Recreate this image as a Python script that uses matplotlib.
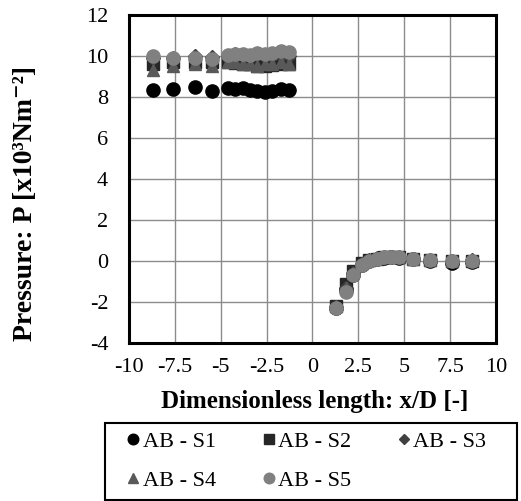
import matplotlib
matplotlib.use('Agg')
import matplotlib.pyplot as plt
from matplotlib.patches import Rectangle
from matplotlib.ticker import MultipleLocator

# ── データ ───────────────────────────────────────────────────
x_left  = [-8.7, -7.6, -6.4, -5.5, -4.6, -4.2, -3.8, -3.4, -3.0, -2.6, -2.2, -1.7, -1.3]
x_right = [1.3, 1.8, 2.2, 2.7, 3.1, 3.5, 3.9, 4.3, 4.7, 5.5, 6.4, 7.6, 8.7]

s1_left = [8.35, 8.4, 8.5, 8.3, 8.45, 8.4, 8.45, 8.35, 8.3, 8.25, 8.3, 8.4, 8.35]
s2_left = [9.6, 9.7, 9.7, 9.7, 9.7, 9.65, 9.6, 9.6, 9.5, 9.5, 9.55, 9.6, 9.6]
s3_left = [9.9, 9.9, 10.0, 9.95, 10.0, 10.1, 10.05, 10.0, 10.1, 10.0, 10.0, 10.05, 10.0]
s4_left = [9.3, 9.5, 9.6, 9.5, 9.7, 9.7, 9.6, 9.6, 9.5, 9.6, 9.6, 9.7, 9.6]
s5_left = [10.0, 9.9, 9.9, 9.85, 10.05, 10.1, 10.1, 10.05, 10.15, 10.1, 10.15, 10.25, 10.2]

s1_right = [-2.3, -1.4, -0.7, -0.2, 0.0, 0.1, 0.15, 0.2, 0.15, 0.1, 0.0, -0.1, -0.05]
s2_right = [-2.2, -1.1, -0.5, -0.1, 0.05, 0.1, 0.2, 0.2, 0.2, 0.1, 0.05, 0.0, 0.0]
s3_right = [-2.25, -1.3, -0.6, -0.15, 0.05, 0.15, 0.2, 0.2, 0.2, 0.1, 0.05, 0.0, 0.05]
s4_right = [-2.2, -1.3, -0.6, -0.1, 0.05, 0.15, 0.2, 0.25, 0.2, 0.1, 0.05, 0.0, 0.05]
s5_right = [-2.3, -1.5, -0.7, -0.2, 0.0, 0.1, 0.2, 0.2, 0.2, 0.1, 0.05, 0.0, 0.0]

labels = ['AB - S1', 'AB - S2', 'AB - S3', 'AB - S4', 'AB - S5']
series = [(s1_left, s1_right), (s2_left, s2_right), (s3_left, s3_right),
          (s4_left, s4_right), (s5_left, s5_right)]
markers = ['o', 's', 'D', '^', 'o']
colors  = ['#000000', '#262626', '#404040', '#595959', '#808080']
msizes  = [9.5, 9, 7, 9, 9.5]

plt.rcParams['font.family'] = ['Liberation Serif', 'DejaVu Serif']
plt.rcParams['axes.unicode_minus'] = False

W, H = 521, 501
fig = plt.figure(figsize=(W / 100, H / 100), dpi=100)
ax = fig.add_axes([0.2476, 0.3154, 0.7044, 0.6546])

handles = []
for (yl, yr), m, c, ms, lab in zip(series, markers, colors, msizes, labels):
    h, = ax.plot(x_left + x_right, yl + yr, ls='none', marker=m, color=c,
                 ms=ms, mec=c, label=lab, zorder=3)
    handles.append(h)

ax.set_xlim(-10, 10)
ax.set_ylim(-4, 12)
ax.set_xticks([-10, -7.5, -5, -2.5, 0, 2.5, 5, 7.5, 10])
ax.set_xticklabels(['-10', '-7.5', '-5', '-2.5', '0', '2.5', '5', '7.5', '10'])
ax.yaxis.set_major_locator(MultipleLocator(2))
ax.tick_params(length=0, labelsize=16)
ax.tick_params(axis='x', pad=11)
ax.tick_params(axis='y', pad=15)
ax.grid(color='#8c8c8c', lw=1.0, zorder=0)
ax.set_axisbelow(True)
for sp in ax.spines.values():
    sp.set_linewidth(2.2)

fig.text(0.604, 0.1996, 'Dimensionless length: x/D [-]', ha='center', va='center',
         fontsize=18, fontweight='bold')
fig.text(0.048, 0.594, 'Pressure: P [x10³Nm⁻²]',
         rotation=90, ha='center', va='center', fontsize=20, fontweight='bold')

# 凡例枠 (手描き)
fig.patches.append(Rectangle((105 / W, 1 - 500 / H), 412 / W, 77 / H,
                             transform=fig.transFigure, fill=False,
                             edgecolor='black', lw=1.5))

# 行優先の並び (S1 S2 S3 / S4 S5) にするため列優先で並べ替え
order = [0, 3, 1, 4, 2]
leg = fig.legend([handles[i] for i in order], [labels[i] for i in order],
                 loc='upper left', bbox_to_anchor=(116 / W, 1 - 420 / H), ncol=3,
                 fontsize=16, frameon=False,
                 handlelength=0.55, handletextpad=0.15, columnspacing=2.1,
                 borderpad=0.0, labelspacing=0.85, markerscale=0.8)

fig.savefig('out.png', dpi=100)
